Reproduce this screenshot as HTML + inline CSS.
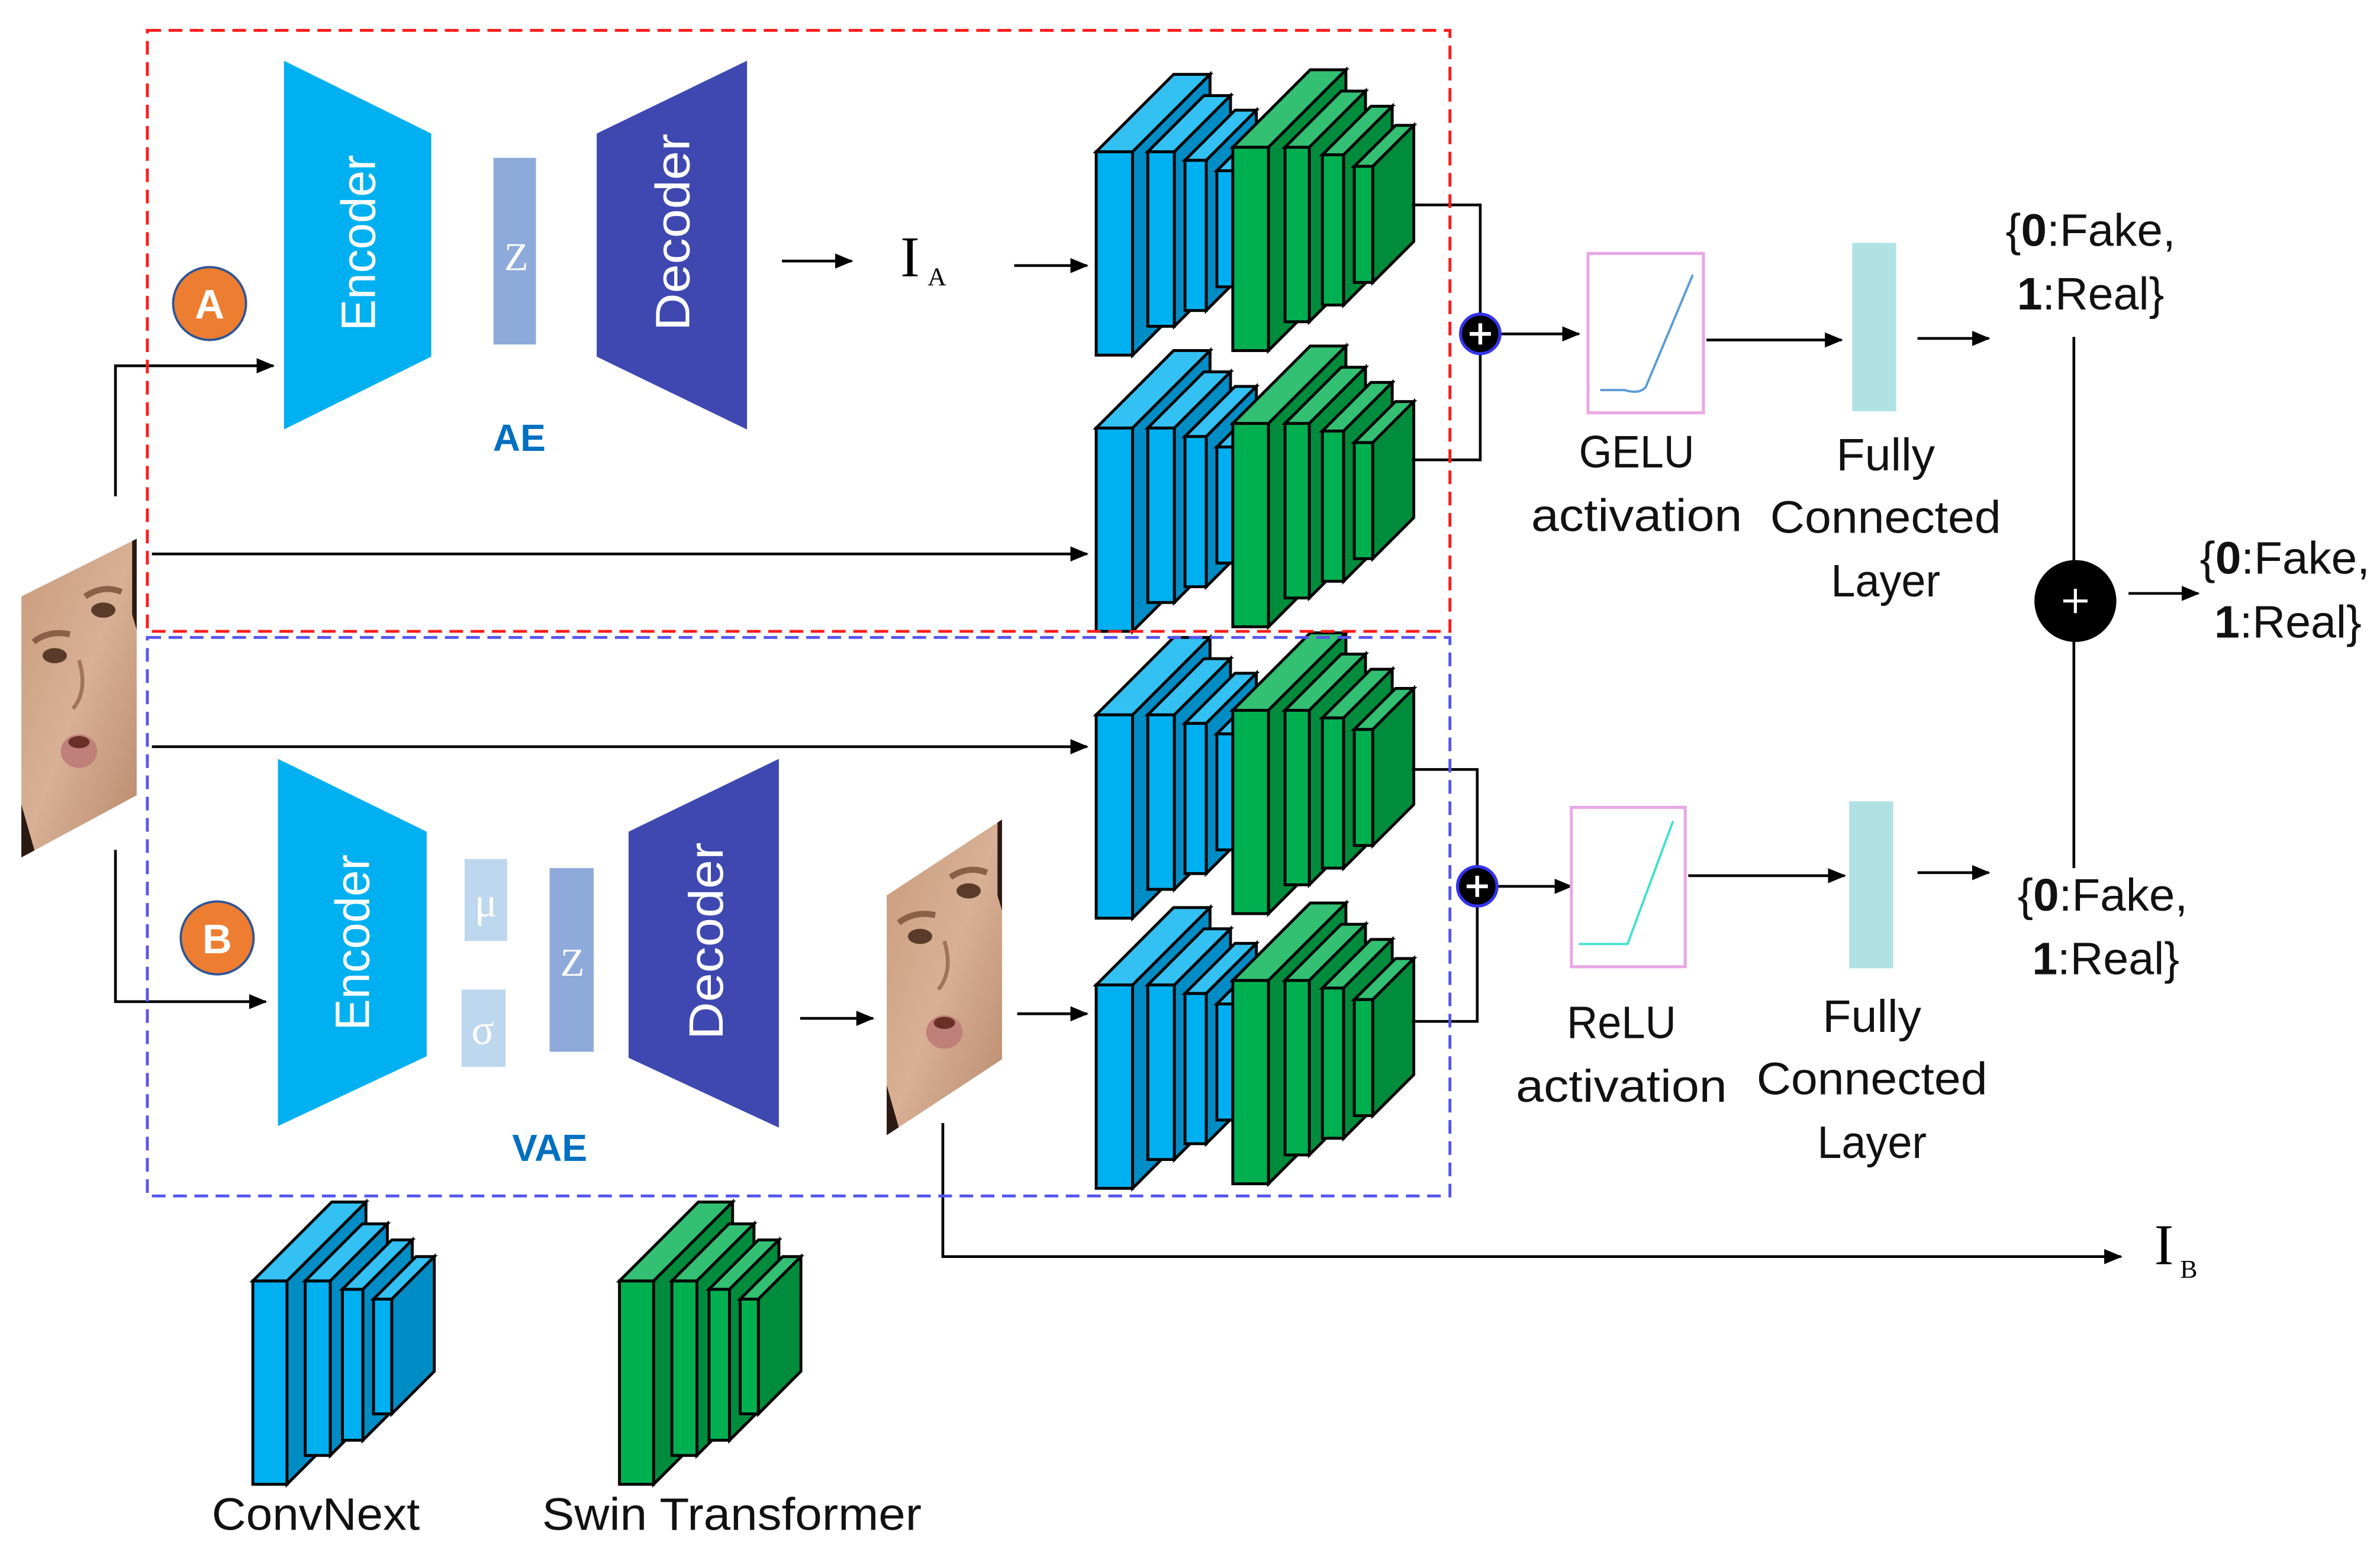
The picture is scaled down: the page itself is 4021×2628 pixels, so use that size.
<!DOCTYPE html>
<html><head><meta charset="utf-8"><style>
html,body{margin:0;padding:0;background:#fff}
svg{display:block}
.bf{fill:#00b0f0}.bs{fill:#008cc4}.bt{fill:#33c1f3}
.gf{fill:#00b050}.gs{fill:#008c3c}.gt{fill:#33c073}
.sl polygon,.sl rect{stroke:#000;stroke-width:1.9;stroke-linejoin:miter}
text{font-family:"Liberation Sans",sans-serif}
.lbl{font-size:30px;fill:#111}
.ser{font-family:"Liberation Serif",serif}
</style></head><body>
<svg width="4021" height="2628" viewBox="0 0 1567.6 1024.6" xmlns="http://www.w3.org/2000/svg">
<defs>
<marker id="ar" markerUnits="userSpaceOnUse" markerWidth="12" markerHeight="10" refX="11" refY="5" orient="auto"><path d="M0,0 L12,5 L0,10 z" fill="#000"/></marker>
<linearGradient id="skin" x1="0" y1="0" x2="1" y2="1"><stop offset="0" stop-color="#c99c7c"/><stop offset="0.5" stop-color="#d8b095"/><stop offset="1" stop-color="#b8896c"/></linearGradient>
<g id="stk" class="sl">
<rect class="bf" x="0" y="0" width="24" height="134"/><polygon class="bt" points="0,0 24,0 75,-51 51,-51"/><polygon class="bs" points="24,0 75,-51 75,83 24,134"/>
<rect class="bf" x="34" y="0" width="17.5" height="115"/><polygon class="bt" points="34,0 51.5,0 88.5,-37 71,-37"/><polygon class="bs" points="51.5,0 88.5,-37 88.5,78 51.5,115"/>
<rect class="bf" x="58.5" y="5.6" width="14" height="99"/><polygon class="bt" points="58.5,5.6 72.5,5.6 105.5,-27.4 91.5,-27.4"/><polygon class="bs" points="72.5,5.6 105.5,-27.4 105.5,71.6 72.5,104.6"/>
<rect class="bf" x="79.5" y="12.5" width="10.5" height="76.5"/><polygon class="bt" points="79.5,12.5 90,12.5 117,-14.5 106.5,-14.5"/><polygon class="bs" points="90,12.5 117,-14.5 117,62 90,89"/>
<rect class="gf" x="90" y="-3" width="23.5" height="134"/><polygon class="gt" points="90,-3 113.5,-3 164.5,-54 141,-54"/><polygon class="gs" points="113.5,-3 164.5,-54 164.5,80 113.5,131"/>
<rect class="gf" x="124.4" y="-3" width="16" height="115"/><polygon class="gt" points="124.4,-3 140.4,-3 177.4,-40 161.4,-40"/><polygon class="gs" points="140.4,-3 177.4,-40 177.4,75 140.4,112"/>
<rect class="gf" x="149" y="2" width="14" height="99"/><polygon class="gt" points="149,2 163,2 195,-30 181,-30"/><polygon class="gs" points="163,2 195,-30 195,69 163,101"/>
<rect class="gf" x="170" y="9.6" width="12.2" height="76.5"/><polygon class="gt" points="170,9.6 182.2,9.6 209.2,-17.4 197.2,-17.4"/><polygon class="gs" points="182.2,9.6 209.2,-17.4 209.2,59.1 182.2,86.1"/>
</g>
<clipPath id="f1"><polygon points="14,393 90,355 90,524 14,565"/></clipPath>
<clipPath id="f2"><polygon points="584,590 660,540 660,698 584,748"/></clipPath>
<g id="face">
<rect x="0" y="0" width="76" height="210" fill="url(#skin)"/>
<path d="M8,68 q10,-8 24,-5" stroke="#8a6048" stroke-width="4" fill="none"/>
<path d="M42,38 q12,-8 24,-3" stroke="#8a6048" stroke-width="4" fill="none"/>
<ellipse cx="22" cy="77" rx="8" ry="5" fill="#5a3a28"/>
<ellipse cx="54" cy="47" rx="8" ry="5" fill="#5a3a28"/>
<path d="M38,80 q6,20 -4,32" stroke="#a0745a" stroke-width="2.5" fill="none"/>
<ellipse cx="38" cy="140" rx="12" ry="11" fill="#c0807a"/>
<ellipse cx="38" cy="134" rx="7" ry="4" fill="#6a3028"/>
<polygon points="0,175 0,210 10,210" fill="#2a1a12"/>
<polygon points="73,0 76,0 76,60 73,50" fill="#2a1a12"/>
</g>
</defs>

<use href="#stk" transform="translate(722,100)"/>
<use href="#stk" transform="translate(722,282)"/>
<use href="#stk" transform="translate(722,471)"/>
<use href="#stk" transform="translate(722,649)"/>

<g class="sl" transform="translate(166.5,844)">
<rect class="bf" x="0" y="0" width="22.5" height="134"/><polygon class="bt" points="0,0 22.5,0 74.5,-52 52,-52"/><polygon class="bs" points="22.5,0 74.5,-52 74.5,82 22.5,134"/>
<rect class="bf" x="34.5" y="0" width="16.5" height="115"/><polygon class="bt" points="34.5,0 51,0 88.6,-37.6 72.1,-37.6"/><polygon class="bs" points="51,0 88.6,-37.6 88.6,77.4 51,115"/>
<rect class="bf" x="59" y="5.5" width="13.5" height="99.5"/><polygon class="bt" points="59,5.5 72.5,5.5 105,-27 91.5,-27"/><polygon class="bs" points="72.5,5.5 105,-27 105,72.5 72.5,105"/>
<rect class="bf" x="79.5" y="12" width="12" height="75.6"/><polygon class="bt" points="79.5,12 91.5,12 119.5,-16 107.5,-16"/><polygon class="bs" points="91.5,12 119.5,-16 119.5,59.6 91.5,87.6"/>
</g>
<g class="sl" transform="translate(408,844)">
<rect class="gf" x="0" y="0" width="22.5" height="134"/><polygon class="gt" points="0,0 22.5,0 74.5,-52 52,-52"/><polygon class="gs" points="22.5,0 74.5,-52 74.5,82 22.5,134"/>
<rect class="gf" x="34.5" y="0" width="16.5" height="115"/><polygon class="gt" points="34.5,0 51,0 88.6,-37.6 72.1,-37.6"/><polygon class="gs" points="51,0 88.6,-37.6 88.6,77.4 51,115"/>
<rect class="gf" x="59" y="5.5" width="13.5" height="99.5"/><polygon class="gt" points="59,5.5 72.5,5.5 105,-27 91.5,-27"/><polygon class="gs" points="72.5,5.5 105,-27 105,72.5 72.5,105"/>
<rect class="gf" x="79.5" y="12" width="12" height="75.6"/><polygon class="gt" points="79.5,12 91.5,12 119.5,-16 107.5,-16"/><polygon class="gs" points="91.5,12 119.5,-16 119.5,59.6 91.5,87.6"/>
</g>
<text class="lbl" x="208" y="1008" text-anchor="middle" textLength="137" lengthAdjust="spacingAndGlyphs">ConvNext</text>
<text class="lbl" x="482" y="1008" text-anchor="middle" textLength="250" lengthAdjust="spacingAndGlyphs">Swin Transformer</text>

<g clip-path="url(#f1)"><use href="#face" transform="translate(14,355)"/></g>
<g clip-path="url(#f2)"><use href="#face" transform="translate(584,540)"/></g>

<polygon points="187,40 284,88 284,235 187,283" fill="#00b0f0"/>
<text x="0" y="0" transform="translate(247,160) rotate(-90)" text-anchor="middle" font-size="32" fill="#fff" textLength="116" lengthAdjust="spacingAndGlyphs">Encoder</text>
<rect x="325" y="104" width="28" height="123" fill="#8eaadb"/>
<text class="ser" x="340" y="178" text-anchor="middle" font-size="26" fill="#fff">Z</text>
<polygon points="393,88 492,40 492,283 393,235" fill="#3f48b0"/>
<text x="0" y="0" transform="translate(454,153) rotate(-90)" text-anchor="middle" font-size="32" fill="#fff" textLength="130" lengthAdjust="spacingAndGlyphs">Decoder</text>
<text x="342" y="297" text-anchor="middle" font-size="25" font-weight="bold" fill="#0070c0">AE</text>
<circle cx="138" cy="200" r="24" fill="#ed7d31" stroke="#2f5597" stroke-width="1.5"/>
<text x="138" y="210" text-anchor="middle" font-size="27" font-weight="bold" fill="#fff">A</text>

<polygon points="183,500 281,548 281,696 183,742" fill="#00b0f0"/>
<text x="0" y="0" transform="translate(243,621) rotate(-90)" text-anchor="middle" font-size="32" fill="#fff" textLength="116" lengthAdjust="spacingAndGlyphs">Encoder</text>
<rect x="306" y="566" width="28" height="54" fill="#bdd7ee"/>
<text class="ser" x="320" y="604" text-anchor="middle" font-size="28" fill="#fff">μ</text>
<rect x="304" y="652" width="29" height="51" fill="#bdd7ee"/>
<text class="ser" x="318" y="688" text-anchor="middle" font-size="28" fill="#fff">σ</text>
<rect x="362" y="572" width="29" height="121" fill="#8eaadb"/>
<text class="ser" x="377" y="643" text-anchor="middle" font-size="26" fill="#fff">Z</text>
<polygon points="414,548 513,500 513,743 414,697" fill="#3f48b0"/>
<text x="0" y="0" transform="translate(476,620) rotate(-90)" text-anchor="middle" font-size="32" fill="#fff" textLength="130" lengthAdjust="spacingAndGlyphs">Decoder</text>
<text x="362" y="765" text-anchor="middle" font-size="25" font-weight="bold" fill="#0070c0">VAE</text>
<circle cx="143" cy="618" r="24" fill="#ed7d31" stroke="#2f5597" stroke-width="1.5"/>
<text x="143" y="628" text-anchor="middle" font-size="27" font-weight="bold" fill="#fff">B</text>

<g stroke="#000" stroke-width="1.8" fill="none">
<polyline points="76,327 76,241 180,241" marker-end="url(#ar)"/>
<polyline points="76,560 76,660 175,660" marker-end="url(#ar)"/>
<line x1="515" y1="172" x2="561" y2="172" marker-end="url(#ar)"/>
<line x1="668" y1="175" x2="716" y2="175" marker-end="url(#ar)"/>
<line x1="100" y1="365" x2="716" y2="365" marker-end="url(#ar)"/>
<line x1="100" y1="492" x2="716" y2="492" marker-end="url(#ar)"/>
<line x1="527" y1="671" x2="575" y2="671" marker-end="url(#ar)"/>
<line x1="670" y1="668" x2="716" y2="668" marker-end="url(#ar)"/>
<polyline points="930,135 975,135 975,303 930,303"/>
<polyline points="930,507 973,507 973,673 930,673"/>
<line x1="988" y1="220" x2="1040" y2="220" marker-end="url(#ar)"/>
<line x1="986" y1="584" x2="1035" y2="584" marker-end="url(#ar)"/>
<line x1="1124" y1="224" x2="1213" y2="224" marker-end="url(#ar)"/>
<line x1="1112" y1="577" x2="1215" y2="577" marker-end="url(#ar)"/>
<line x1="1263" y1="223" x2="1310" y2="223" marker-end="url(#ar)"/>
<line x1="1263" y1="575" x2="1310" y2="575" marker-end="url(#ar)"/>
<line x1="1366" y1="222" x2="1366" y2="572"/>
<line x1="1402" y1="391" x2="1448" y2="391" marker-end="url(#ar)"/>
<polyline points="621,740 621,828 1397,828" marker-end="url(#ar)"/>
</g>

<circle cx="975" cy="220" r="13" fill="#000" stroke="#3333ee" stroke-width="2"/>
<path d="M968,220h14M975,213v14" stroke="#fff" stroke-width="2.5"/>
<circle cx="973" cy="584" r="13" fill="#000" stroke="#3333ee" stroke-width="2"/>
<path d="M966,584h14M973,577v14" stroke="#fff" stroke-width="2.5"/>
<circle cx="1367" cy="396" r="27" fill="#000"/>
<path d="M1359,396h16M1367,388v16" stroke="#fff" stroke-width="2"/>

<text class="ser" x="593" y="182" font-size="38">I</text>
<text class="ser" x="611" y="188" font-size="17">A</text>
<text class="ser" x="1419" y="833" font-size="38">I</text>
<text class="ser" x="1436" y="842" font-size="17">B</text>

<rect x="1046" y="167" width="76" height="105" fill="#fff" stroke="#e8a8e4" stroke-width="2"/>
<path d="M1054,257 L1070,257 Q1080,260 1084,255 L1115,181" stroke="#5b9bd5" stroke-width="1.5" fill="none"/>
<rect x="1035" y="532" width="75" height="105" fill="#fff" stroke="#e8a8e4" stroke-width="2"/>
<path d="M1040,622 L1072,622 L1102,541" stroke="#40e0d0" stroke-width="1.5" fill="none"/>
<rect x="1220" y="160" width="29" height="111" fill="#b0e2e4"/>
<rect x="1218" y="528" width="29" height="110" fill="#b0e2e4"/>

<text class="lbl" x="1078" y="308" text-anchor="middle" textLength="76" lengthAdjust="spacingAndGlyphs">GELU</text>
<text class="lbl" x="1078" y="350" text-anchor="middle" textLength="139" lengthAdjust="spacingAndGlyphs">activation</text>
<text class="lbl" x="1242" y="310" text-anchor="middle" textLength="65" lengthAdjust="spacingAndGlyphs">Fully</text>
<text class="lbl" x="1242" y="351" text-anchor="middle" textLength="152" lengthAdjust="spacingAndGlyphs">Connected</text>
<text class="lbl" x="1242" y="393" text-anchor="middle" textLength="72" lengthAdjust="spacingAndGlyphs">Layer</text>
<text class="lbl" x="1068" y="684" text-anchor="middle" textLength="72" lengthAdjust="spacingAndGlyphs">ReLU</text>
<text class="lbl" x="1068" y="726" text-anchor="middle" textLength="139" lengthAdjust="spacingAndGlyphs">activation</text>
<text class="lbl" x="1233" y="680" text-anchor="middle" textLength="65" lengthAdjust="spacingAndGlyphs">Fully</text>
<text class="lbl" x="1233" y="721" text-anchor="middle" textLength="152" lengthAdjust="spacingAndGlyphs">Connected</text>
<text class="lbl" x="1233" y="763" text-anchor="middle" textLength="72" lengthAdjust="spacingAndGlyphs">Layer</text>

<text class="lbl" x="1377" y="162" text-anchor="middle" textLength="112" lengthAdjust="spacingAndGlyphs">{<tspan font-weight="bold">0</tspan>:Fake,</text>
<text class="lbl" x="1377" y="204" text-anchor="middle" textLength="97" lengthAdjust="spacingAndGlyphs"><tspan font-weight="bold">1</tspan>:Real}</text>
<text class="lbl" x="1505" y="378" text-anchor="middle" textLength="112" lengthAdjust="spacingAndGlyphs">{<tspan font-weight="bold">0</tspan>:Fake,</text>
<text class="lbl" x="1507" y="420" text-anchor="middle" textLength="97" lengthAdjust="spacingAndGlyphs"><tspan font-weight="bold">1</tspan>:Real}</text>
<text class="lbl" x="1385" y="600" text-anchor="middle" textLength="112" lengthAdjust="spacingAndGlyphs">{<tspan font-weight="bold">0</tspan>:Fake,</text>
<text class="lbl" x="1387" y="642" text-anchor="middle" textLength="97" lengthAdjust="spacingAndGlyphs"><tspan font-weight="bold">1</tspan>:Real}</text>

<rect x="97" y="20" width="858" height="396" fill="none" stroke="#ff1a1a" stroke-width="1.9" stroke-dasharray="9,5"/>
<rect x="97" y="420" width="858" height="368" fill="none" stroke="#5555ee" stroke-width="1.9" stroke-dasharray="9,5"/>
</svg>
</body></html>
